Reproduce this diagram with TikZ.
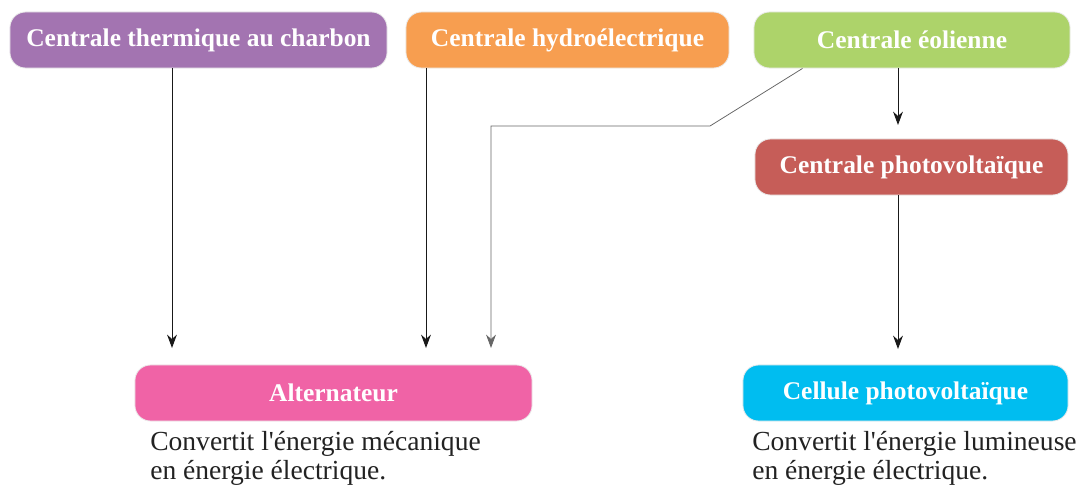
\documentclass[tikz,border=0pt]{standalone}
\usepackage{fontspec}
\setmainfont{Liberation Serif}
\usetikzlibrary{arrows.meta,calc}
\definecolor{violetbox}{HTML}{A374B1}
\definecolor{orangebox}{HTML}{F79E50}
\definecolor{vertbox}{HTML}{ADD36A}
\definecolor{rougebox}{HTML}{C65D58}
\definecolor{rosebox}{HTML}{F063A6}
\definecolor{cyanbox}{HTML}{00BDF0}
\definecolor{texte}{HTML}{222222}
\tikzset{
  boite/.style={rounded corners=11pt, draw=black!8, line width=0.6pt, text=white,
    font=\fontsize{18.1}{21}\selectfont\bfseries, inner sep=0pt, minimum height=1.4cm},
  fleche/.style={-{Stealth[length=9.5pt,width=7pt]}, line width=0.7pt, draw=black!90},
  legende/.style={anchor=north west, align=left, text=texte, inner sep=0pt,
    font=\fontsize{19.6}{20.8}\selectfont}
}
\begin{document}
\begin{tikzpicture}[x=0.025cm, y=-0.025cm]
  \useasboundingbox (0,0) rectangle (1081,488);
  % Centrales
  \node[boite, fill=violetbox, minimum width=9.425cm] (thermique) at (198.5,40) {Centrale thermique au charbon};
  \node[boite, fill=orangebox, minimum width=8.075cm] (hydro) at (567.5,40) {Centrale hydroélectrique};
  \node[boite, fill=vertbox, minimum width=7.9cm] (eol) at (912,40) {Centrale éolienne};
  \node[boite, fill=rougebox, minimum width=7.825cm] (pvc) at (911.5,167) {Centrale photovoltaïque};

  % Convertisseurs
  \node[boite, fill=rosebox, minimum width=9.925cm] (alt) at (333.5,393) {Alternateur};
  \node[boite, fill=cyanbox, minimum width=8.125cm] (cell) at (905.5,393) {Cellule photovoltaïque};

  % Legendes
  \node[legende] (altleg) at (150,431) {Convertit l\textquotesingle énergie mécanique\\en énergie électrique.};
  \node[legende] (cellleg) at (752,431) {Convertit l\textquotesingle énergie lumineuse\\en énergie électrique.};

  % Fleches
  \coordinate (a1) at (172,348);
  \coordinate (a2) at (426,348);
  \coordinate (a3) at (491,348);
  \coordinate (coude) at (710,126);
  \coordinate (a4) at (898,125);
  \coordinate (a5) at (898,349);
  \draw[fleche] (a1 |- thermique.south) -- (a1);
  \draw[fleche] (a2 |- hydro.south) -- (a2);
  \draw[fleche, draw=black!60, line width=0.55pt] ($(eol.south west)+(49,0)$) -- (coude) -- (coude -| a3) -- (a3);
  \draw[fleche] (a4 |- eol.south) -- (a4);
  \draw[fleche] (a5 |- pvc.south) -- (a5);
\end{tikzpicture}
\end{document}
